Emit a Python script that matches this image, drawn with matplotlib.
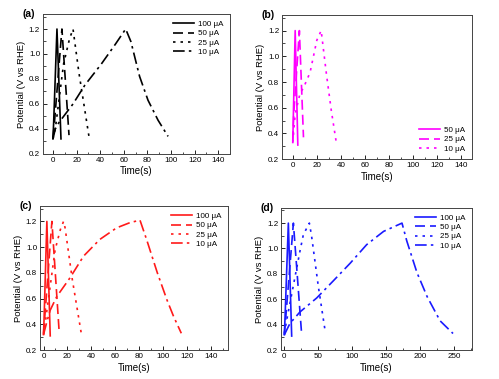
import matplotlib
matplotlib.use("Agg")
import matplotlib.pyplot as plt
from matplotlib.ticker import MultipleLocator

plt.rcParams['font.family'] = ['Liberation Sans', 'DejaVu Sans']

# panel (a) - black
a_labels = ['100 \u03bcA', '50 \u03bcA', '25 \u03bcA', '10 \u03bcA']
a_t = [[0, 0.6, 3.4, 6.8],
       [0, 1.0, 7.6, 13.6],
       [0, 2.0, 9.0, 14.0, 17.0, 22.0, 30.5],
       [0, 2.0, 5.0, 9.0, 17.0, 27.0, 41.0, 53.0, 61.6, 66.0, 73.4, 80.5, 89.0, 97.5]]
a_v = [[0.32, 0.45, 1.2, 0.32],
       [0.33, 0.42, 1.2, 0.35],
       [0.32, 0.40, 0.92, 1.12, 1.2, 0.85, 0.34],
       [0.32, 0.40, 0.45, 0.50, 0.60, 0.75, 0.92, 1.08, 1.2, 1.10, 0.82, 0.63, 0.47, 0.34]]

# panel (b) - magenta
b_labels = ['50 \u03bcA', '25 \u03bcA', '10 \u03bcA']
b_t = [[0, 0.4, 2.0, 4.2],
       [0, 0.8, 5.5, 8.9],
       [0, 2.0, 6.0, 8.9, 14.4, 20.0, 23.6, 28.0, 32.0, 36.0]]
b_v = [[0.33, 0.50, 1.2, 0.31],
       [0.34, 0.55, 1.2, 0.37],
       [0.33, 0.55, 0.71, 0.755, 0.875, 1.125, 1.2, 0.86, 0.58, 0.34]]

# panel (c) - red
c_labels = ['100 \u03bcA', '50 \u03bcA', '25 \u03bcA', '10 \u03bcA']
c_t = [[0, 0.5, 2.8, 5.6],
       [0, 1.0, 7.0, 13.0],
       [0, 2.0, 9.7, 14.0, 16.7, 18.0, 24.0, 31.5],
       [0, 2.8, 5.6, 11.0, 22.0, 33.4, 47.0, 61.0, 72.0, 80.5, 86.0, 95.0, 103.0, 108.6, 115.0]]
c_v = [[0.32, 0.45, 1.2, 0.31],
       [0.33, 0.45, 1.2, 0.35],
       [0.32, 0.45, 0.98, 1.135, 1.2, 1.15, 0.75, 0.33],
       [0.32, 0.42, 0.51, 0.615, 0.76, 0.93, 1.06, 1.15, 1.19, 1.21, 1.06, 0.80, 0.59, 0.46, 0.33]]

# panel (d) - blue
d_labels = ['100 \u03bcA', '50 \u03bcA', '25 \u03bcA', '10 \u03bcA']
d_t = [[0, 1.0, 5.9, 10.8],
       [0, 2.0, 13.3, 25.5],
       [0, 4.0, 23.0, 28.0, 36.8, 40.0, 50.0, 60.0],
       [0, 8.3, 23.0, 47.6, 72.0, 97.0, 121.0, 146.0, 173.0, 180.0, 195.0, 210.0, 229.0, 248.0]]
d_v = [[0.32, 0.45, 1.2, 0.31],
       [0.32, 0.45, 1.2, 0.32],
       [0.33, 0.45, 0.98, 1.11, 1.2, 1.1, 0.70, 0.35],
       [0.32, 0.41, 0.50, 0.61, 0.745, 0.885, 1.03, 1.135, 1.2, 1.06, 0.81, 0.62, 0.43, 0.33]]

styles = ['-', (0, (6, 3)), (0, (1.5, 3)), (0, (7, 2.5, 1.5, 2.5))]

fig = plt.figure(figsize=(4.99, 3.79), dpi=100)

panels = [
    ('(a)', [0.086, 0.594, 0.375, 0.369], a_t, a_v, a_labels, 'black', styles, (-8.5, 150), 20, 'upper right'),
    ('(b)', [0.565, 0.580, 0.381, 0.380], b_t, b_v, b_labels, '#ff00ff', styles[:3], (-9, 149), 20, 'lower right'),
    ('(c)', [0.080, 0.0765, 0.377, 0.380], c_t, c_v, c_labels, '#ff1a1a', styles, (-3, 154), 20, 'upper right'),
    ('(d)', [0.563, 0.0765, 0.383, 0.375], d_t, d_v, d_labels, '#1a1aff', styles, (-5, 276), 50, 'upper right'),
]

for tag, pos, ts, vs, labels, color, lss, xlim, xstep, loc in panels:
    ax = fig.add_axes(pos)
    for t, v, lab, ls in zip(ts, vs, labels, lss):
        ax.plot(t, v, color=color, linestyle=ls, linewidth=1.2, label=lab)
    ax.set_xlim(*xlim)
    ax.set_ylim(0.2, 1.32)
    ax.xaxis.set_major_locator(MultipleLocator(xstep))
    ax.xaxis.set_minor_locator(MultipleLocator(xstep / 2))
    ax.yaxis.set_major_locator(MultipleLocator(0.2))
    ax.yaxis.set_minor_locator(MultipleLocator(0.1))
    ax.tick_params(which='both', direction='in', labelsize=5.8, pad=2)
    ax.tick_params(which='major', length=3, width=0.6)
    ax.tick_params(which='minor', length=1.8, width=0.5)
    for s in ax.spines.values():
        s.set_linewidth(0.7)
        s.set_color('#444444')
    ax.set_xlabel('Time(s)', fontsize=7, labelpad=2)
    ax.set_ylabel('Potential (V vs RHE)', fontsize=6.8, labelpad=2)
    ax.text(-0.075, 1.0, tag, transform=ax.transAxes, fontsize=7.5, fontweight='bold',
            ha='center', va='center')
    ax.legend(loc=loc, frameon=False, fontsize=5.8, handlelength=2.6,
              labelspacing=0.2, handletextpad=0.5, borderaxespad=0.4)

fig.savefig('out.png', dpi=100)
